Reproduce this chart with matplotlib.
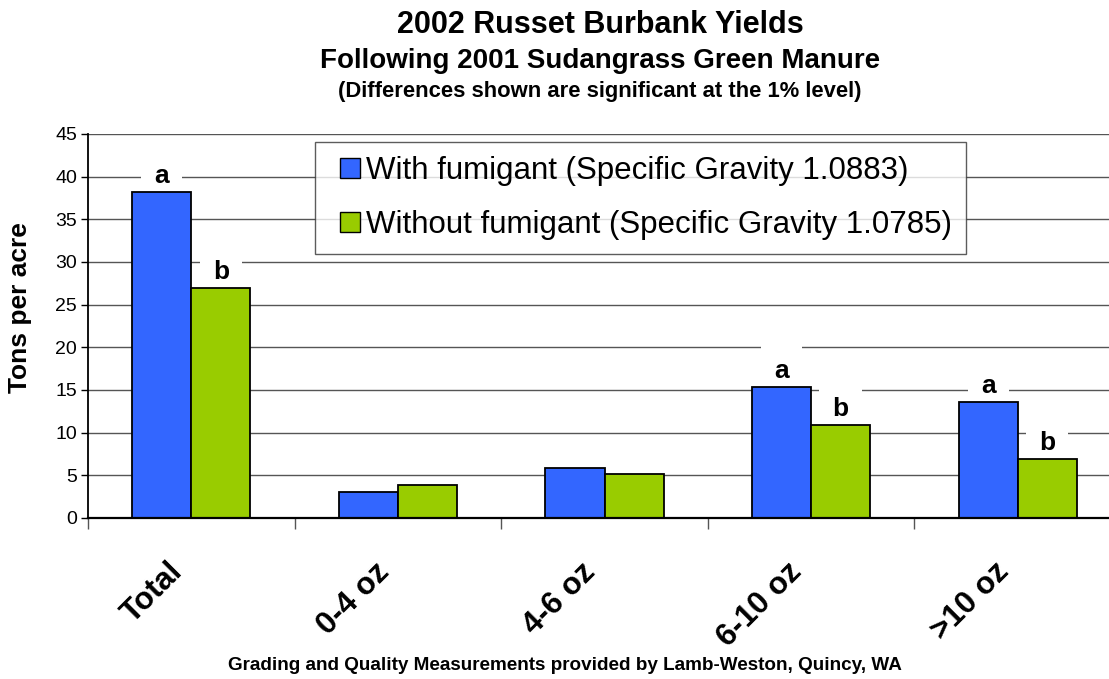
import numpy as np
import matplotlib
matplotlib.use('Agg')
import matplotlib.pyplot as plt
from matplotlib.patches import Patch, Rectangle
from matplotlib.legend_handler import HandlerPatch
from matplotlib.transforms import ScaledTranslation

plt.rcParams['font.family'] = ['Liberation Sans', 'DejaVu Sans']

categories = ["Total", "0-4 oz", "4-6 oz", "6-10 oz", ">10 oz"]
with_fumigant = [38.2, 3.1, 5.9, 15.3, 13.6]
without_fumigant = [26.9, 3.9, 5.2, 10.9, 6.9]
letters_with = ["a", "", "", "a", "a"]
letters_without = ["b", "", "", "b", "b"]
series_names = ["With fumigant (Specific Gravity 1.0883)",
                "Without fumigant (Specific Gravity 1.0785)"]

blue = '#3366FF'
green = '#99CC00'

fig = plt.figure(figsize=(11.09, 6.79), dpi=100)
# plot area runs a bit past the right edge, as in the original export
ax = fig.add_axes([88/1109, 1 - 518/679, 1033/1109, 384/679])

x = np.arange(len(categories))
w = 0.2856
ax.bar(x - w/2, with_fumigant, w, color=blue, edgecolor='black', linewidth=1.3, zorder=2)
ax.bar(x + w/2, without_fumigant, w, color=green, edgecolor='black', linewidth=1.3, zorder=2)

# significance letters, white box hides the grid line behind them
for xs, vals, labs in [(x - w/2, with_fumigant, letters_with),
                       (x + w/2, without_fumigant, letters_without)]:
    for xi, v, lab in zip(xs, vals, labs):
        if lab:
            ax.annotate(lab, (xi, v), xytext=(0, 3), textcoords='offset points',
                        ha='center', va='bottom', fontsize=19, fontweight='bold',
                        zorder=1,
                        bbox=dict(boxstyle='square,pad=0.5', fc='white', ec='none'))

ax.set_xlim(-0.5, len(categories) - 0.5)
ax.set_ylim(0, 45)
ax.set_yticks(np.arange(0, 46, 5))
ax.tick_params(axis='y', labelsize=14, length=5, width=1, direction='out', pad=3)

ax.set_xticks(x)
ax.set_xticklabels(categories, fontsize=22.5, fontweight='bold', rotation=45,
                   ha='right', va='top', rotation_mode='anchor')
ax.set_xticks(np.arange(-0.5, len(categories)), minor=True)
ax.tick_params(axis='x', which='major', length=0, pad=28)
ax.tick_params(axis='x', which='minor', length=8, width=1, color='#555555')
shift = ScaledTranslation(-24/100, 0, fig.dpi_scale_trans)
for lab in ax.get_xticklabels():
    lab.set_transform(lab.get_transform() + shift)

ax.grid(True, axis='y', color='#555555', linewidth=1)
ax.set_axisbelow(True)
for s in ['top', 'right']:
    ax.spines[s].set_visible(False)
ax.spines['left'].set_linewidth(1.3)
ax.spines['bottom'].set_linewidth(1.6)

ax.set_ylabel("Tons per acre", fontsize=19, fontweight='bold')
ax.yaxis.set_label_coords(-0.0542, 0.548)


def square_handle(legend, orig_handle, xdescent, ydescent, width, height, fontsize):
    s = 0.64 * fontsize
    return Rectangle((-xdescent + width - s, -ydescent + (height - s) / 2), s, s)


handles = [Patch(facecolor=blue, edgecolor='black'), Patch(facecolor=green, edgecolor='black')]
leg = ax.legend(handles, series_names, loc='upper left', bbox_to_anchor=(0.2197, 0.979),
                fontsize=22.5, frameon=True, fancybox=False, edgecolor='#333333',
                handlelength=0.98, handleheight=0.64, handletextpad=0.19,
                labelspacing=0.74, borderpad=0.46, borderaxespad=0,
                handler_map={Patch: HandlerPatch(patch_func=square_handle)})
leg.get_frame().set_linewidth(1)
leg.set_zorder(5)

fig.text(0.541, 1 - 25/679, "2002 Russet Burbank Yields", ha='center', va='center',
         fontsize=22, fontweight='bold')
fig.text(0.541, 1 - 61/679, "Following 2001 Sudangrass Green Manure", ha='center', va='center',
         fontsize=20, fontweight='bold')
fig.text(0.541, 1 - 91/679, "(Differences shown are significant at the 1% level)", ha='center',
         va='center', fontsize=15.8, fontweight='bold')
fig.text(0.509, 1 - 666/679, "Grading and Quality Measurements provided by Lamb-Weston, Quincy, WA",
         ha='center', va='center', fontsize=13.6, fontweight='bold')

fig.savefig('out.png', dpi=100)
